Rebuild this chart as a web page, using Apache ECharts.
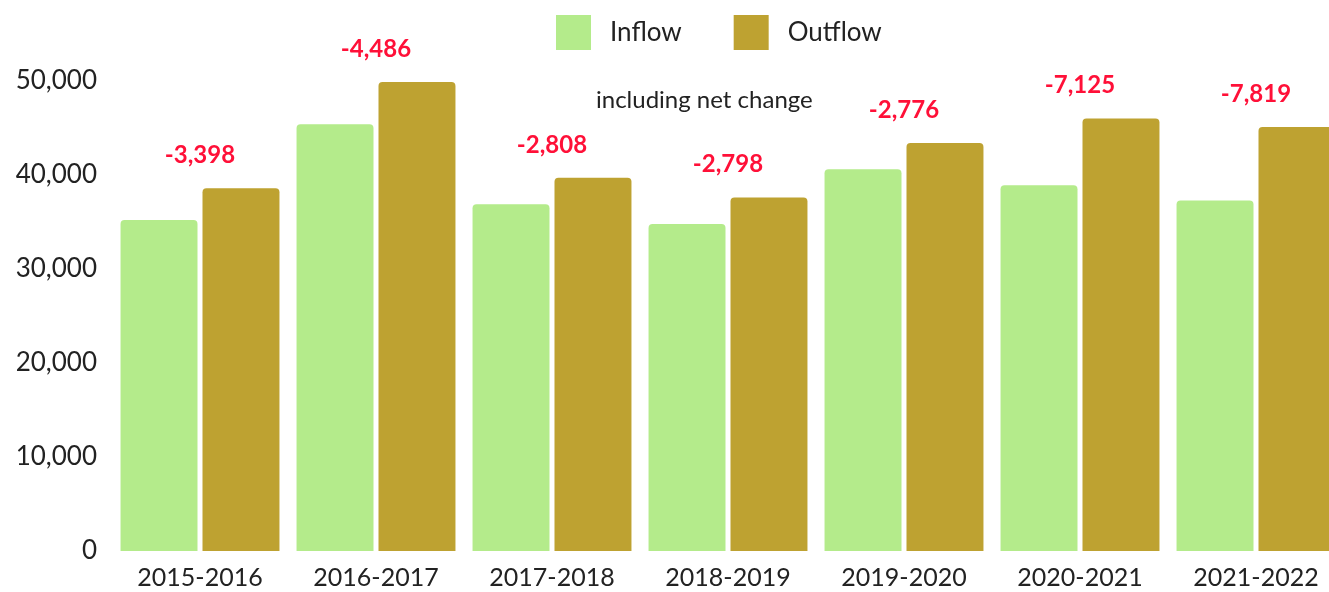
<!DOCTYPE html>
<html>
<head>
<meta charset="utf-8">
<script src="https://cdn.jsdelivr.net/npm/echarts@6/dist/echarts.min.js"></script>
<style>
html, body { margin: 0; padding: 0; background: #fff; }
#flow { width: 1329px; height: 592px; }
</style>
</head>
<body>
<div id="flow"></div>
<script>
// data
var years = ['2015-2016', '2016-2017', '2017-2018', '2018-2019', '2019-2020', '2020-2021', '2021-2022'];
var inflow = [35200, 45400, 36900, 34800, 40600, 38900, 37300];
var outflow = [38600, 49900, 39700, 37600, 43400, 46000, 45100];
var netChange = [-3398, -4486, -2808, -2798, -2776, -7125, -7819];
var yTicks = [0, 10000, 20000, 30000, 40000, 50000];

var fontName = 'Lato, "Open Sans", sans-serif';
var chart = echarts.init(document.getElementById('flow'));

chart.setOption({
    animation: false,
    textStyle: { fontFamily: fontName },
    title: {
        text: 'including net change',
        left: 591,
        top: 83,
        textStyle: { fontFamily: fontName, fontSize: 24, fontWeight: 'normal', color: '#222' }
    },
    legend: {
        left: 551,
        top: 10,
        itemWidth: 35,
        itemHeight: 35,
        itemGap: 52,
        icon: 'rect',
        textStyle: { fontFamily: fontName, fontSize: 26, color: '#222', padding: [0, 0, 0, 14] },
        data: ['Inflow', 'Outflow']
    },
    // last category runs past the right edge, as in the original
    grid: { left: 112, top: 81, width: 1232, height: 470, outerBoundsMode: 'none', containLabel: false },
    xAxis: {
        type: 'category',
        data: years,
        axisLine: { show: false },
        axisTick: { show: false },
        axisLabel: { fontSize: 25, color: '#222', margin: 14, fontFamily: fontName }
    },
    yAxis: {
        type: 'value',
        min: yTicks[0],
        max: yTicks[yTicks.length - 1],
        interval: yTicks[1] - yTicks[0],
        splitLine: { show: false },
        axisLine: { show: false },
        axisTick: { show: false },
        axisLabel: {
            fontSize: 26,
            color: '#222',
            margin: 15,
            fontFamily: fontName,
            formatter: function (v) { return v.toLocaleString('en-US'); }
        }
    },
    series: [{
        name: 'Inflow',
        type: 'bar',
        data: inflow,
        barCategoryGap: '9.7%',
        barGap: '6.5%',
        itemStyle: { color: '#b4eb8b', borderRadius: [4, 4, 0, 0] }
    }, {
        name: 'Outflow',
        type: 'bar',
        data: outflow,
        itemStyle: { color: '#bea231', borderRadius: [4, 4, 0, 0] },
        label: {
            show: true,
            position: 'top',
            distance: 21,
            offset: [-41, 0],
            fontFamily: fontName,
            fontSize: 24,
            fontWeight: 'bold',
            color: '#ff1038',
            formatter: function (p) { return netChange[p.dataIndex].toLocaleString('en-US'); }
        }
    }]
});
</script>
</body>
</html>
